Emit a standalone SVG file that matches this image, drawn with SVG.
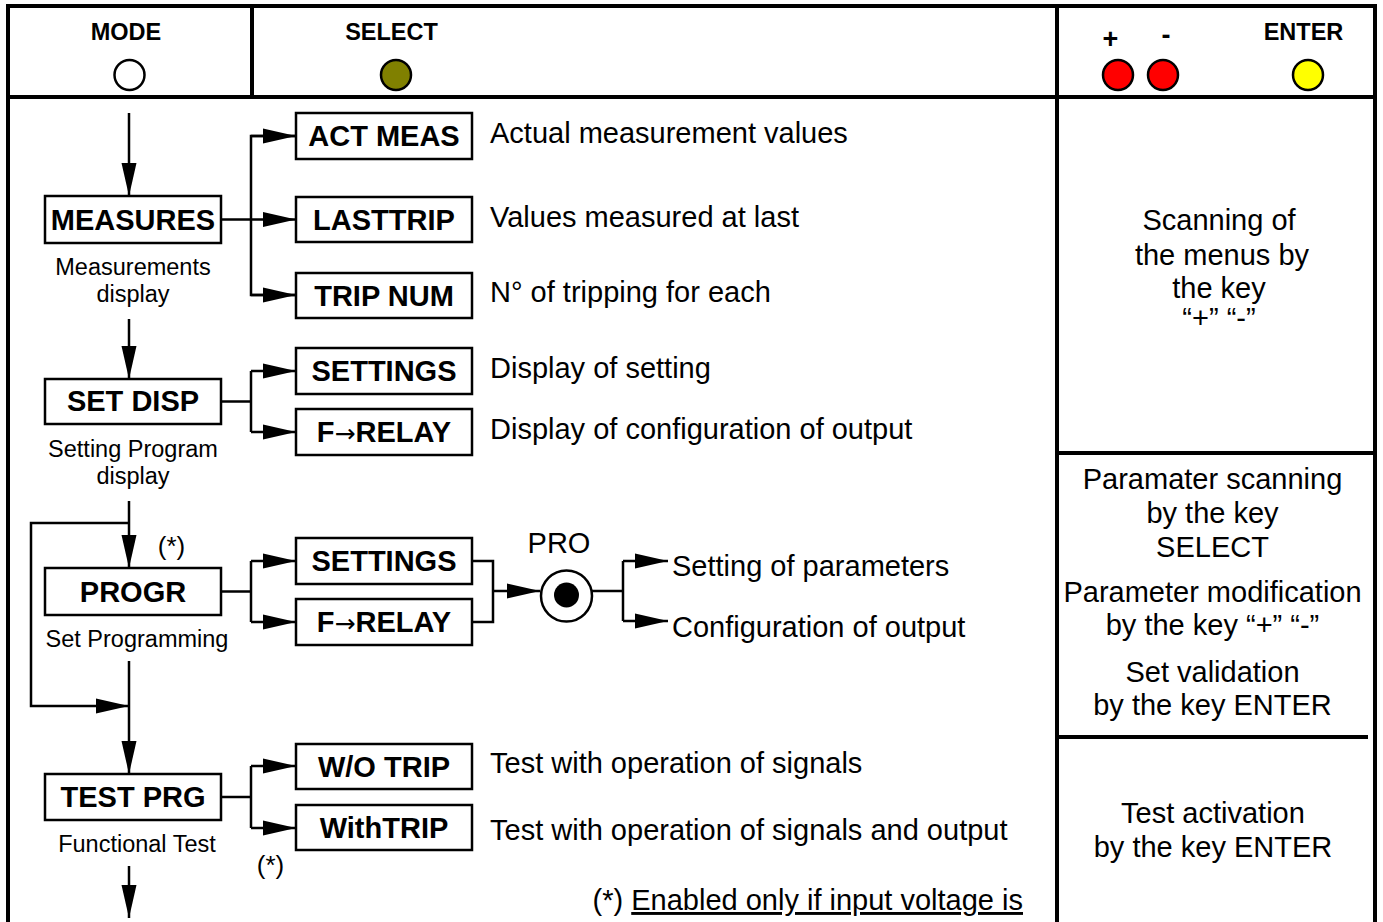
<svg xmlns="http://www.w3.org/2000/svg" width="1383" height="922" viewBox="0 0 1383 922">
<style>
text{font-family:"Liberation Sans",Arial,sans-serif;fill:#000}
.hd{font-size:23.5px;font-weight:bold;text-anchor:middle}
.pm{font-size:27px;font-weight:bold;text-anchor:middle}
.bx{font-size:29px;font-weight:bold;text-anchor:middle}
.arr{font-family:"DejaVu Sans",sans-serif;font-weight:normal;font-size:25px}
.sub{font-size:23.5px;text-anchor:middle}
.txt{font-size:29px}
.ctr{font-size:29px;text-anchor:middle}
.box{fill:#fff;stroke:#000;stroke-width:2.5}
.key{stroke:#000;stroke-width:2.5}
.frame{stroke:#000;stroke-width:4;fill:none}
.ln{stroke:#000;stroke-width:2.5;fill:none}
</style>
<defs>
<marker id="ah" markerUnits="userSpaceOnUse" markerWidth="34" markerHeight="16" refX="33" refY="8" orient="auto">
<path d="M0,0.5 L33,8 L0,15.5 z" fill="#000"/>
</marker>
</defs>
<rect width="1383" height="922" fill="#fff"/>
<g id="frame">
<line class="frame" x1="6" y1="6" x2="1377" y2="6"/>
<line class="frame" x1="8" y1="6" x2="8" y2="922"/>
<line class="frame" x1="1375" y1="6" x2="1375" y2="922"/>
<line class="frame" x1="8" y1="97" x2="1375" y2="97"/>
<line class="frame" x1="252" y1="6" x2="252" y2="97"/>
<line class="frame" x1="1057" y1="6" x2="1057" y2="922"/>
<line class="frame" x1="1057" y1="453" x2="1375" y2="453"/>
<line class="frame" x1="1057" y1="737" x2="1368" y2="737"/>
</g>
<g id="key-mode">
<text class="hd" x="126" y="40">MODE</text>
<circle class="key" cx="129.5" cy="75" r="15" fill="#fff"/>
</g>
<g id="key-select">
<text class="hd" x="391.5" y="40">SELECT</text>
<circle class="key" cx="396" cy="75" r="15" fill="#808000"/>
</g>
<g id="key-plus">
<text class="pm" x="1110.5" y="48">+</text>
<circle class="key" cx="1118" cy="75" r="15" fill="#ff0000"/>
</g>
<g id="key-minus">
<text class="pm" x="1166" y="44">-</text>
<circle class="key" cx="1163" cy="75" r="15" fill="#ff0000"/>
</g>
<g id="key-enter">
<text class="hd" x="1303.5" y="40">ENTER</text>
<circle class="key" cx="1308" cy="75" r="15" fill="#ffff00"/>
</g>
<g id="connectors">
<line class="ln" x1="129" y1="113" x2="129" y2="196" marker-end="url(#ah)"/>
<line class="ln" x1="221" y1="219.5" x2="296" y2="219.5" marker-end="url(#ah)"/>
<polyline class="ln" points="296,136 251,136 251,295 296,295"/>
<line class="ln" x1="251" y1="136" x2="296" y2="136" marker-end="url(#ah)"/>
<line class="ln" x1="251" y1="295" x2="296" y2="295" marker-end="url(#ah)"/>
<line class="ln" x1="129" y1="319" x2="129" y2="379" marker-end="url(#ah)"/>
<line class="ln" x1="221" y1="401.5" x2="251" y2="401.5"/>
<line class="ln" x1="251" y1="371" x2="251" y2="432"/>
<line class="ln" x1="251" y1="371" x2="296" y2="371" marker-end="url(#ah)"/>
<line class="ln" x1="251" y1="432" x2="296" y2="432" marker-end="url(#ah)"/>
<line class="ln" x1="129" y1="501" x2="129" y2="568" marker-end="url(#ah)"/>
<polyline class="ln" points="129,523 31,523 31,706 129,706" marker-end="url(#ah)"/>
<line class="ln" x1="221" y1="591.5" x2="251" y2="591.5"/>
<line class="ln" x1="251" y1="561" x2="251" y2="622"/>
<line class="ln" x1="251" y1="561" x2="296" y2="561" marker-end="url(#ah)"/>
<line class="ln" x1="251" y1="622" x2="296" y2="622" marker-end="url(#ah)"/>
<line class="ln" x1="129" y1="661" x2="129" y2="774" marker-end="url(#ah)"/>
<polyline class="ln" points="472,561 493,561 493,622 472,622"/>
<line class="ln" x1="493" y1="591" x2="540" y2="591" marker-end="url(#ah)"/>
<line class="ln" x1="592" y1="591" x2="623" y2="591"/>
<line class="ln" x1="623" y1="561" x2="623" y2="621"/>
<line class="ln" x1="623" y1="561" x2="668" y2="561" marker-end="url(#ah)"/>
<line class="ln" x1="623" y1="621" x2="668" y2="621" marker-end="url(#ah)"/>
<line class="ln" x1="221" y1="797" x2="251" y2="797"/>
<line class="ln" x1="251" y1="766" x2="251" y2="828"/>
<line class="ln" x1="251" y1="766" x2="296" y2="766" marker-end="url(#ah)"/>
<line class="ln" x1="251" y1="828" x2="296" y2="828" marker-end="url(#ah)"/>
<line class="ln" x1="129" y1="866" x2="129" y2="918" marker-end="url(#ah)"/>
</g>
<g id="measures">
<rect class="box" x="45" y="196" width="176" height="47"/>
<text class="bx" x="133" y="229.5">MEASURES</text>
<text class="sub" x="133" y="275">Measurements</text>
<text class="sub" x="133" y="302">display</text>
</g>
<g id="set-disp">
<rect class="box" x="45" y="379" width="176" height="45"/>
<text class="bx" x="133" y="411">SET DISP</text>
<text class="sub" x="133" y="457">Setting Program</text>
<text class="sub" x="133" y="484">display</text>
</g>
<g id="progr">
<rect class="box" x="45" y="568" width="176" height="47"/>
<text class="bx" x="133" y="601.5">PROGR</text>
<text class="sub" x="137" y="647">Set Programming</text>
<text class="sub" x="171.5" y="555" style="font-size:26px">(*)</text>
</g>
<g id="test-prg">
<rect class="box" x="45" y="774" width="176" height="46"/>
<text class="bx" x="133" y="807">TEST PRG</text>
<text class="sub" x="137" y="852">Functional Test</text>
<text class="sub" x="270.5" y="874" style="font-size:26px">(*)</text>
</g>
<g id="act-meas">
<rect class="box" x="296" y="113" width="176" height="46"/>
<text class="bx" x="384" y="146">ACT MEAS</text>
<text class="txt" x="490" y="143">Actual measurement values</text>
</g>
<g id="lasttrip">
<rect class="box" x="296" y="197" width="176" height="45"/>
<text class="bx" x="384" y="229.5">LASTTRIP</text>
<text class="txt" x="490" y="227">Values measured at last</text>
</g>
<g id="trip-num">
<rect class="box" x="296" y="273" width="176" height="45"/>
<text class="bx" x="384" y="305.5">TRIP NUM</text>
<text class="txt" x="490" y="302">N° of tripping for each</text>
</g>
<g id="settings-disp">
<rect class="box" x="296" y="348" width="176" height="46"/>
<text class="bx" x="384" y="381">SETTINGS</text>
<text class="txt" x="490" y="378">Display of setting</text>
</g>
<g id="relay-disp">
<rect class="box" x="296" y="409" width="176" height="46"/>
<text class="bx" x="384" y="442">F<tspan class="arr">→</tspan>RELAY</text>
<text class="txt" x="490" y="439">Display of configuration of output</text>
</g>
<g id="settings-prog">
<rect class="box" x="296" y="538" width="176" height="46"/>
<text class="bx" x="384" y="571">SETTINGS</text>
</g>
<g id="relay-prog">
<rect class="box" x="296" y="599" width="176" height="46"/>
<text class="bx" x="384" y="632">F<tspan class="arr">→</tspan>RELAY</text>
</g>
<g id="pro">
<text class="txt" x="559" y="553" text-anchor="middle">PRO</text>
<circle cx="566.5" cy="596" r="25.5" fill="#fff" stroke="#000" stroke-width="2.5"/>
<circle cx="566.5" cy="595" r="12.5" fill="#000"/>
</g>
<g id="setting-params">
<text class="txt" x="672" y="576">Setting of parameters</text>
</g>
<g id="config-output">
<text class="txt" x="672" y="637">Configuration of output</text>
</g>
<g id="wo-trip">
<rect class="box" x="296" y="744" width="176" height="45"/>
<text class="bx" x="384" y="776.5">W/O TRIP</text>
<text class="txt" x="490" y="773">Test with operation of signals</text>
</g>
<g id="with-trip">
<rect class="box" x="296" y="805" width="176" height="45"/>
<text class="bx" x="384" y="837.5">WithTRIP</text>
<text class="txt" x="490" y="840">Test with operation of signals and output</text>
</g>
<g id="footnote">
<text class="txt" x="1023" y="910" text-anchor="end">(*) <tspan text-decoration="underline">Enabled only if input voltage is</tspan></text>
</g>
<g id="info-scan">
<text class="ctr" x="1219" y="230">Scanning of</text>
<text class="ctr" x="1222" y="265">the menus by</text>
<text class="ctr" x="1219" y="298">the key</text>
<text class="ctr" x="1219" y="328">“+” “-”</text>
</g>
<g id="info-param">
<text class="ctr" x="1212.5" y="489">Paramater scanning</text>
<text class="ctr" x="1212.5" y="523">by the key</text>
<text class="ctr" x="1212.5" y="557">SELECT</text>
<text class="ctr" x="1212.5" y="602">Parameter modification</text>
<text class="ctr" x="1212.5" y="635">by the key “+” “-”</text>
<text class="ctr" x="1212.5" y="682">Set validation</text>
<text class="ctr" x="1212.5" y="715">by the key ENTER</text>
</g>
<g id="info-test">
<text class="ctr" x="1213" y="823">Test activation</text>
<text class="ctr" x="1213" y="857">by the key ENTER</text>
</g>
</svg>
